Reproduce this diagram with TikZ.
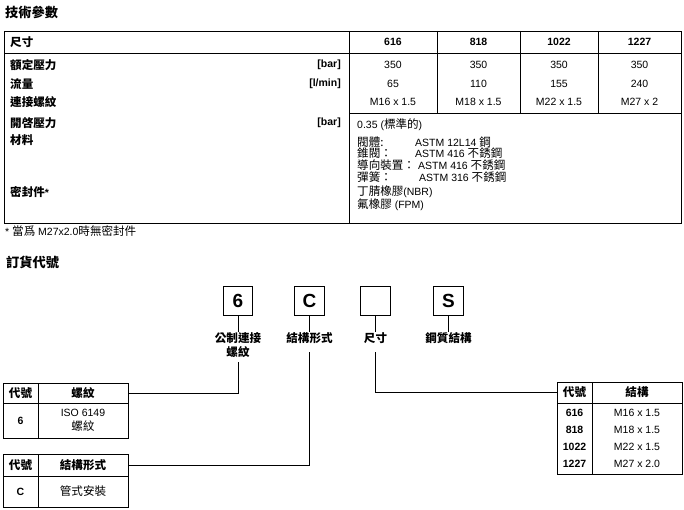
\documentclass[tikz,border=0pt]{standalone}
\usepackage{fontspec}
\setmainfont{Liberation Sans}
\newfontfamily\cjk[Scale=1.1]{Noto Sans CJK TC}
\newcommand{\zh}[1]{{\cjk #1}}

\tikzset{
  tbl/.style={line width=0.8pt},
  conn/.style={line width=0.8pt},
  heading/.style={anchor=west, inner sep=0pt, font=\fontsize{12}{14}\selectfont\bfseries},
  rowlbl/.style={anchor=west, inner sep=0pt, font=\fontsize{10.5}{12}\selectfont\bfseries},
  unit/.style={anchor=east, inner sep=0pt, font=\fontsize{10.5}{12}\selectfont\bfseries},
  colhead/.style={inner sep=0pt, font=\fontsize{10.5}{12}\selectfont\bfseries},
  val/.style={inner sep=0pt, font=\fontsize{10.5}{12}\selectfont},
  lval/.style={val, anchor=west},
  codebox/.style={draw, line width=0.8pt, minimum width=29.5, minimum height=29, inner sep=0pt,
    font=\fontsize{19}{19}\selectfont\bfseries},
  codelbl/.style={anchor=north, inner sep=0pt, text height=10pt, text depth=10pt,
    font=\fontsize{10.5}{12}\selectfont\bfseries},
  cell/.style={draw, line width=0.8pt, inner sep=0pt, align=center,
    font=\fontsize{10.5}{14}\selectfont},
  bcell/.style={cell, font=\fontsize{10.5}{14}\selectfont\bfseries}
}

\begin{document}
\begin{tikzpicture}[x=1pt,y=-1pt]
    \useasboundingbox (0,0) rectangle (684,510);

    % Technische Daten
    \node[heading] (tech) at (5,12) {\zh{技術參數}};

    % Tabelle
    \draw[tbl] (4,31) rectangle (681,223);
    \draw[tbl] (4,53) -- (681,53);
    \draw[tbl] (349,31) -- (349,223);
    \draw[tbl] (437,31) -- (437,113) (520,31) -- (520,113) (598,31) -- (598,113);
    \draw[tbl] (349,113) -- (681,113);

    % Kopfzeile
    \node[rowlbl] (size) at (10,42) {\zh{尺寸}};
    \node[colhead] (h1) at (393,42) {616};
    \node[colhead] (h2) at (478.5,42) {818};
    \node[colhead] (h3) at (559,42) {1022};
    \node[colhead] (h4) at (639.5,42) {1227};

    % Zeilen
    \node[rowlbl] (rated) at (10,65) {\zh{額定壓力}};
    \node[unit] (ubar) at (341,65) {[bar]};
    \node[rowlbl] (flow) at (10,84) {\zh{流量}};
    \node[unit] (umin) at (341,84) {[l/min]};
    \node[rowlbl] (thread) at (10,102) {\zh{連接螺紋}};
    \node[rowlbl] (crack) at (10,123) {\zh{開啓壓力}};
    \node[unit] (ucrack) at (341,123) {[bar]};
    \node[rowlbl] (mat) at (10,140) {\zh{材料}};
    \node[rowlbl] (seal) at (10,192) {\zh{密封件}*};

    % Werte
    \foreach \x/\p/\q/\t [count=\i] in {393/350/65/M16 x 1.5, 478.5/350/110/M18 x 1.5,
        559/350/155/M22 x 1.5, 639.5/350/240/M27 x 2} {
      \node[val] (p\i) at (\x,65) {\p};
      \node[val] (q\i) at (\x,84) {\q};
      \node[val] (t\i) at (\x,102) {\t};
    }
    \node[lval] (crackv) at (357,125) {0.35 (\zh{標準的})};
    \node[lval] (m1) at (357,142) {\zh{閥體:}};
    \node[lval] (a1) at (415,142) {ASTM 12L14 \zh{鋼}};
    \node[lval] (m2) at (357,153) {\zh{錐閥：}};
    \node[lval] (a2) at (415,153) {ASTM 416 \zh{不銹鋼}};
    \node[lval] (m3) at (357,165) {\zh{導向裝置：}};
    \node[lval] (a3) at (418,165) {ASTM 416 \zh{不銹鋼}};
    \node[lval] (m4) at (357,177) {\zh{彈簧：}};
    \node[lval] (a4) at (419,177) {ASTM 316 \zh{不銹鋼}};
    \node[lval] (s1) at (357,192) {\zh{丁腈橡膠}(NBR)};
    \node[lval] (s2) at (357,205) {\zh{氟橡膠} (FPM)};

    % Fussnote
    \node[lval] (note) at (5,231) {* \zh{當爲} M27x2.0\zh{時無密封件}};

    % Bestellschluessel
    \node[heading] (order) at (6,262) {\zh{訂貨代號}};

    \node[codebox] (b6) at (238,300.5) {6};
    \node[codebox] (bC) at (309.5,300.5) {C};
    \node[codebox] (bsz) at (375.5,300.5) {};
    \node[codebox] (bS) at (448.5,300.5) {S};

    \node[codelbl] (l6a) at (238,332) {\zh{公制連接}};
    \node[codelbl, text depth=6pt] (l6b) at (238,346) {\zh{螺紋}};
    \node[codelbl] (lC) at (309.5,332) {\zh{結構形式}};
    \node[codelbl] (lsz) at (375.5,332) {\zh{尺寸}};
    \node[codelbl] (lS) at (448.5,332) {\zh{鋼質結構}};

    % Gewinde
    \node[bcell, minimum width=35, minimum height=20] (k1h) at (20.5,393) {\zh{代號}};
    \node[bcell, minimum width=90, minimum height=20] (t1h) at (83,393) {\zh{螺紋}};
    \node[bcell, minimum width=35, minimum height=35] (k1) at (20.5,420.5) {6};
    \node[cell, minimum width=90, minimum height=35] (v1) at (83,420.5) {ISO 6149\\\zh{螺紋}};

    % Bauform
    \node[bcell, minimum width=35, minimum height=22] (k2h) at (20.5,465) {\zh{代號}};
    \node[bcell, minimum width=90, minimum height=22] (t2h) at (83,465) {\zh{結構形式}};
    \node[bcell, minimum width=35, minimum height=31] (k2) at (20.5,491.5) {C};
    \node[cell, minimum width=90, minimum height=31] (v2) at (83,491.5) {\zh{管式安裝}};

    % Groesse
    \node[bcell, minimum width=35, minimum height=21] (k3h) at (574.5,392.5) {\zh{代號}};
    \node[bcell, minimum width=90, minimum height=21] (t3h) at (637,392.5) {\zh{結構}};
    \node[bcell, minimum width=35, minimum height=71, font=\fontsize{10.5}{17}\selectfont\bfseries]
      (k3) at (574.5,438.5) {616\\818\\1022\\1227};
    \node[cell, minimum width=90, minimum height=71, font=\fontsize{10.5}{17}\selectfont]
      (v3) at (637,438.5) {M16 x 1.5\\M18 x 1.5\\M22 x 1.5\\M27 x 2.0};

    % Verbindungen
    \draw[conn] (b6) -- (l6a);
    \draw[conn] (l6b) |- (t1h);
    \draw[conn] (bC) -- (lC);
    \draw[conn] (lC) |- (t2h);
    \draw[conn] (bsz) -- (lsz);
    \draw[conn] (lsz) |- (k3h);
    \draw[conn] (bS) -- (lS);
\end{tikzpicture}
\end{document}
